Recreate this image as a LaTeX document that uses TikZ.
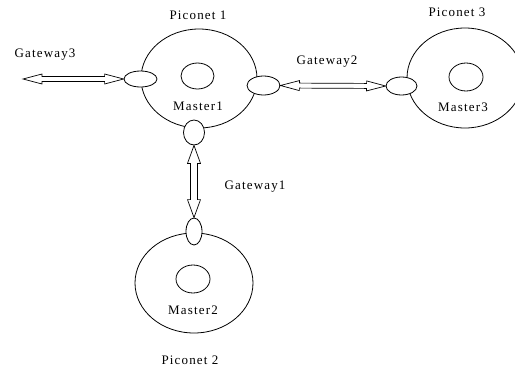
\documentclass[tikz,border=0pt]{standalone}
\usepackage{fontspec}
\setmainfont{Liberation Serif}
\newfontfamily\lblfont[LetterSpace=9]{Liberation Serif}
\usetikzlibrary{calc,shapes.geometric}
\tikzset{
  big/.style={ellipse,draw,line width=0.8pt,inner sep=0pt},
  gw/.style={ellipse,draw,fill=white,line width=0.8pt,inner sep=0pt},
  lbl/.style={font=\lblfont\fontsize{13}{15}\selectfont,inner sep=0pt},
  arrowline/.style={draw,line width=0.7pt,line join=miter,fill=white}
}
\newcommand\gwarrow[5]{%
  \path[arrowline] let \p1=(#1), \p2=(#2),
    \n1={atan2(\y2-\y1,\x2-\x1)}, \n2={veclen(\x2-\x1,\y2-\y1)} in
    [shift={(\p1)}, rotate=\n1]
    (0pt,0pt) -- (#5,#4) -- (#5,#3) -- ({\n2*1pt-#5},#3) -- ({\n2*1pt-#5},#4)
    -- ({\n2*1pt},0pt) -- ({\n2*1pt-#5},-#4) -- ({\n2*1pt-#5},-#3) -- (#5,-#3)
    -- (#5,-#4) -- cycle;}
\begin{document}
\begin{tikzpicture}[x=1pt,y=-1pt]
\useasboundingbox (0,0) rectangle (515,370);
\begin{scope}
\clip (0,0) rectangle (515,370);
% Piconet 1
\node[big,minimum width=116pt,minimum height=99pt] (P1) at (199,78.5) {};
\node[big,minimum width=33pt,minimum height=26pt] (M1) at (197.5,76) {};
\node[gw,minimum width=33pt,minimum height=16pt] (G1L) at (140.5,79) {};
\node[gw,minimum width=33pt,minimum height=19pt] (G1R) at (263.5,85.5) {};
\node[gw,minimum width=21pt,minimum height=25pt] (G1B) at (194,132.5) {};
% Piconet 2
\node[big,minimum width=118pt,minimum height=100pt] (P2) at (194,283) {};
\node[big,minimum width=34pt,minimum height=28pt] (M2) at (193,279) {};
\node[gw,minimum width=16pt,minimum height=27pt] (G2T) at (194,231.5) {};
% Piconet 3
\node[big,minimum width=116pt,minimum height=100pt] (P3) at (465,78) {};
\node[big,minimum width=34pt,minimum height=28pt] (M3) at (466,77) {};
\node[gw,minimum width=31pt,minimum height=18pt] (G3L) at (401.5,86) {};
\end{scope}
% labels
\node[lbl] (tP1) at (198,15) {Piconet 1};
\node[lbl] (tM1) at (198,106) {Master1};
\node[lbl] (tP2) at (190,360) {Piconet 2};
\node[lbl] (tM2) at (193,310) {Master2};
\node[lbl] (tP3) at (457,12) {Piconet 3};
\node[lbl] (tM3) at (463,107) {Master3};
\node[lbl] (tG3) at (45,55) {Gateway3};
\node[lbl] (tG2) at (327,62) {Gateway2};
\node[lbl] (tG1) at (255,187) {Gateway1};
% gateway arrows
\coordinate (E3) at (23,79);
\gwarrow{E3}{G1L.west}{2.5pt}{5pt}{19pt}
\gwarrow{G1R.east}{G3L.west}{2.5pt}{5pt}{19pt}
\gwarrow{G1B.south}{G2T.north}{3.5pt}{6.5pt}{18pt}
\end{tikzpicture}
\end{document}
